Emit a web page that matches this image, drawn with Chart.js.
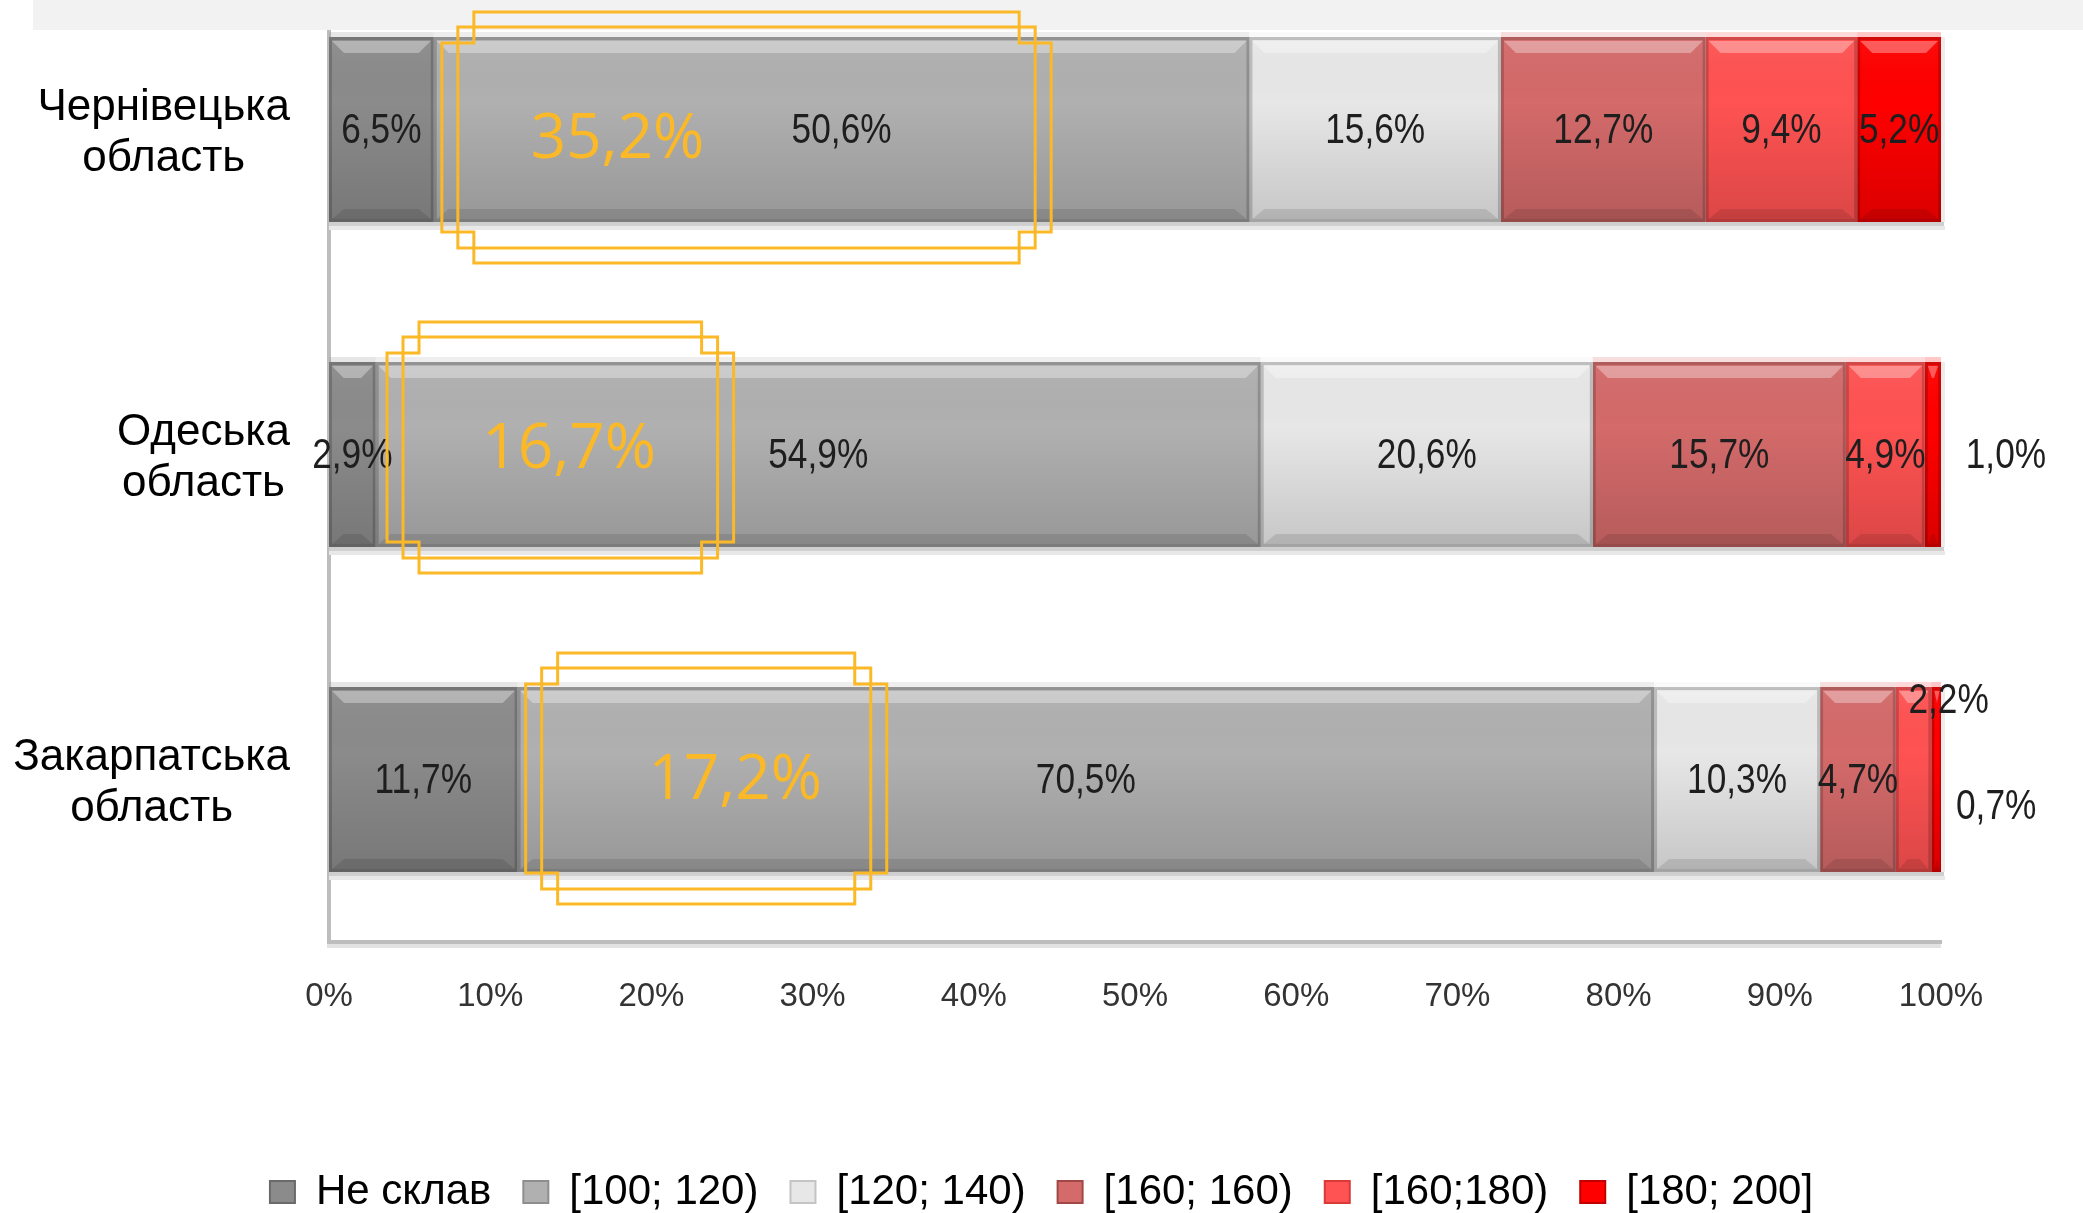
<!DOCTYPE html>
<html><head><meta charset="utf-8">
<script src="https://cdn.jsdelivr.net/npm/chart.js@4"></script>
<style>
html,body{margin:0;padding:0;background:#fff;overflow:hidden;width:2083px;height:1213px;}
#wrap{position:absolute;left:0;top:-33px;width:2083px;height:1256px;}
canvas{display:block;}
</style></head><body>
<div id="wrap"><canvas id="c" width="2083" height="1256"></canvas></div>
<script>
// ---------- data ----------
const categories = [['Чернівецька','область'],['Одеська','область'],['Закарпатська','область']];
const seriesNames = ['Не склав','[100; 120)','[120; 140)','[160; 160)','[160;180)','[180; 200]'];
const notPassed    = [6.5, 2.9, 11.7];
const range100_120 = [50.6, 54.9, 70.5];
const range120_140 = [15.6, 20.6, 10.3];
const range160_160 = [12.7, 15.7, 4.7];
const range160_180 = [9.4, 4.9, 2.2];
const range180_200 = [5.2, 1.0, 0.7];
const xTickLabels = ['0%','10%','20%','30%','40%','50%','60%','70%','80%','90%','100%'];
const highlightLabels = ['35,2%','16,7%','17,2%'];

// ---------- styles / annotation placement ----------
const COLORS = ['#8b8b8b','#b0b0b0','#e7e7e7','#d46a6a','#ff5252','#ff0000'];
const EDGES  = ['#6a6a6a','#8e8e8e','#c4c4c4','#a04848','#d83a3a','#c00000'];
const highlightBoxes = { // wide-rect x-range in axis units (%), vertical shift in px
  ranges: [[7.0,44.8],[3.6,25.1],[12.2,34.6]],
  dy: [8,-7,-1],
  textX: [17.9,14.9,25.2]
};
const labelOffsets = { '1-5':[73,0], '2-4':[35,-80], '2-5':[60,26] };

function hasFont(name){
  const c=document.createElement('canvas').getContext('2d');
  const s='abcdefghij0123456789%,';
  c.font='40px monospace'; const a=c.measureText(s).width;
  c.font='40px "'+name+'", monospace'; const b=c.measureText(s).width;
  return Math.abs(a-b)>0.5;
}
const NARROW = hasFont('Liberation Sans Narrow');
const narrowFam = '"Liberation Sans Narrow", "Liberation Sans", sans-serif';

const seriesData = [notPassed, range100_120, range120_140, range160_160, range160_180, range180_200];

function drawSquished(ctx, text, x, y, sx){
  ctx.save(); ctx.translate(x,y); ctx.scale(sx,1); ctx.fillText(text,0,0); ctx.restore();
}

const barDecor = {
  id:'barDecor',
  beforeDatasetsDraw(chart){
    const ctx=chart.ctx, ca=chart.chartArea;
    const m0=chart.getDatasetMeta(0);
    ctx.save();
    m0.data.forEach((el)=>{
      const p=el.getProps(['y','height'],true);
      const top=p.y-p.height/2, bot=p.y+p.height/2;
      ctx.fillStyle='#cfcfcf'; ctx.fillRect(ca.left, bot, ca.width+3, 4);
      ctx.fillStyle='#e8e8e8'; ctx.fillRect(ca.left, bot+4, ca.width+4, 4);
      ctx.fillStyle='#ececec'; ctx.fillRect(ca.right, top, 4, p.height);
    });
    ctx.restore();
  },
  afterDatasetsDraw(chart){
    const ctx=chart.ctx, ca=chart.chartArea;
    ctx.save();
    ctx.beginPath(); ctx.rect(ca.left, -100, ca.width, 3000); ctx.clip();
    chart.data.datasets.forEach((ds,i)=>{
      chart.getDatasetMeta(i).data.forEach((el,j)=>{
        const p=el.getProps(['x','y','base','height'],true);
        const x0=Math.min(p.x,p.base), x1=Math.max(p.x,p.base), w=x1-x0;
        const y0=p.y-p.height/2, y1=p.y+p.height/2;
        ctx.globalAlpha=0.22; ctx.fillStyle=COLORS[i]; ctx.fillRect(x0,y0-5,w,5); ctx.globalAlpha=1;
        const g=ctx.createLinearGradient(0,y0,0,y1);
        g.addColorStop(0,'rgba(255,255,255,0.05)');
        g.addColorStop(0.35,'rgba(0,0,0,0)');
        g.addColorStop(1,'rgba(0,0,0,0.14)');
        ctx.fillStyle=g; ctx.fillRect(x0,y0,w,p.height);
        const ins=Math.min(12, w/4);
        ctx.fillStyle='rgba(255,255,255,0.33)';
        ctx.beginPath();
        ctx.moveTo(x0+3,y0+4); ctx.lineTo(x1-3,y0+4); ctx.lineTo(x1-3-ins,y0+16); ctx.lineTo(x0+3+ins,y0+16); ctx.closePath(); ctx.fill();
        ctx.fillStyle='rgba(0,0,0,0.10)';
        ctx.beginPath();
        ctx.moveTo(x0+3+ins,y1-13); ctx.lineTo(x1-3-ins,y1-13); ctx.lineTo(x1-3,y1-3); ctx.lineTo(x0+3,y1-3); ctx.closePath(); ctx.fill();
        ctx.strokeStyle='rgba(0,0,0,0.18)'; ctx.lineWidth=3;
        ctx.strokeRect(x0+1.5,y0+1.5,Math.max(w-3,0),p.height-3);
      });
    });
    ctx.restore();
    // value labels
    ctx.save();
    ctx.fillStyle='#1e1e1e'; ctx.textAlign='center'; ctx.textBaseline='middle';
    ctx.font = NARROW ? '43px "Liberation Sans Narrow"' : '42px "Liberation Sans"';
    const sx = NARROW ? 1 : 0.84;
    chart.data.datasets.forEach((ds,i)=>{
      chart.getDatasetMeta(i).data.forEach((el,j)=>{
        const p=el.getProps(['x','y','base'],true);
        const xr=Math.min(p.x, ca.right);
        let cx=(xr+p.base)/2, cy=p.y+2;
        const off=labelOffsets[j+'-'+i];
        if(off){cx+=off[0]; cy+=off[1];}
        const t=ds.data[j].toFixed(1).replace('.',',')+'%';
        drawSquished(ctx,t,cx,cy,sx);
      });
    });
    ctx.restore();
  },
  afterDraw(chart){
    const ctx=chart.ctx, ca=chart.chartArea, xs=chart.scales.x, ys=chart.scales.y;
    ctx.save();
    ctx.fillStyle='#e2e2e2'; ctx.fillRect(ca.left-2, ca.bottom+2, ca.width+2, 4);
    // category labels
    ctx.fillStyle='#000'; ctx.font='44px "Liberation Sans"'; ctx.textAlign='center'; ctx.textBaseline='middle';
    chart.data.labels.forEach((lab,j)=>{
      const cy=ys.getPixelForValue(j)+4;
      const lines=Array.isArray(lab)?lab:[lab];
      const bw=Math.max(...lines.map(l=>ctx.measureText(l).width));
      const cx=ca.left-39-bw/2;
      lines.forEach((l,k)=>ctx.fillText(l,cx,cy+(k-(lines.length-1)/2)*51));
    });
    // top gray strip (page y 0..30)
    ctx.fillStyle='#f2f2f2'; ctx.fillRect(33,33,2083-33,30);
    // highlight boxes
    ctx.strokeStyle='#fbb827'; ctx.lineWidth=3;
    highlightBoxes.ranges.forEach((r,j)=>{
      const cy=ys.getPixelForValue(j)+highlightBoxes.dy[j];
      const wx1=xs.getPixelForValue(r[0]), wx2=xs.getPixelForValue(r[1]);
      const wy1=cy-94.5, wy2=cy+94.5;
      const tx1=wx1+32, tx2=wx2-32, ty1=cy-125.5, ty2=cy+125.5;
      ctx.beginPath();
      ctx.moveTo(tx1,ty1); ctx.lineTo(tx2,ty1); ctx.lineTo(tx2,wy1); ctx.lineTo(wx2,wy1);
      ctx.lineTo(wx2,wy2); ctx.lineTo(tx2,wy2); ctx.lineTo(tx2,ty2); ctx.lineTo(tx1,ty2);
      ctx.lineTo(tx1,wy2); ctx.lineTo(wx1,wy2); ctx.lineTo(wx1,wy1); ctx.lineTo(tx1,wy1); ctx.closePath();
      ctx.stroke();
      ctx.strokeRect(wx1+16, cy-110.5, (wx2-wx1)-32, 221);
      ctx.fillStyle='#fbb827'; ctx.font='62px "Open Sans"'; ctx.textAlign='center'; ctx.textBaseline='middle';
      ctx.fillText(highlightLabels[j], xs.getPixelForValue(highlightBoxes.textX[j]), cy+3);
    });
    ctx.restore();
  }
};

const chart = new Chart(document.getElementById('c'), {
  type:'bar',
  data:{
    labels: categories,
    datasets: seriesData.map((d,i)=>({
      label: seriesNames[i], data: d, backgroundColor: COLORS[i], borderWidth:0,
      categoryPercentage:1, barPercentage:0.569
    }))
  },
  options:{
    indexAxis:'y', responsive:false, animation:false, devicePixelRatio:1,
    layout:{padding:{left:0,right:0,top:0,bottom:0}},
    scales:{
      x:{stacked:true, min:0, max:100,
        ticks:{stepSize:10, autoSkip:false, maxRotation:0, padding:35, color:'#333',
          font:{family: narrowFam, size: NARROW?41:33},
          callback:(v,i)=>xTickLabels[i]},
        grid:{display:false, drawTicks:false},
        border:{display:true, color:'#bdbdbd', width:4},
        afterFit:(s)=>{s.height=197;}
      },
      y:{stacked:true,
        ticks:{display:false},
        grid:{display:false, drawTicks:false},
        border:{display:true, color:'#bdbdbd', width:4},
        afterFit:(s)=>{s.width=329;}
      },
      yRight:{type:'linear', axis:'y', position:'right', display:true,
        ticks:{display:false}, grid:{display:false, drawTicks:false}, border:{display:false},
        afterFit:(s)=>{s.width=142;}
      }
    },
    plugins:{
      tooltip:{enabled:false},
      legend:{position:'bottom',
        labels:{font:{family:'"Liberation Sans", sans-serif', size:42}, color:'#000',
          boxWidth:25, boxHeight:22, padding:32,
          generateLabels:(ch)=>{
            const items=Chart.defaults.plugins.legend.labels.generateLabels(ch);
            items.forEach((it,i)=>{it.strokeStyle=EDGES[i]; it.lineWidth=2;});
            return items;
          }}
      }
    }
  },
  plugins:[barDecor]
});
</script>
</body></html>
